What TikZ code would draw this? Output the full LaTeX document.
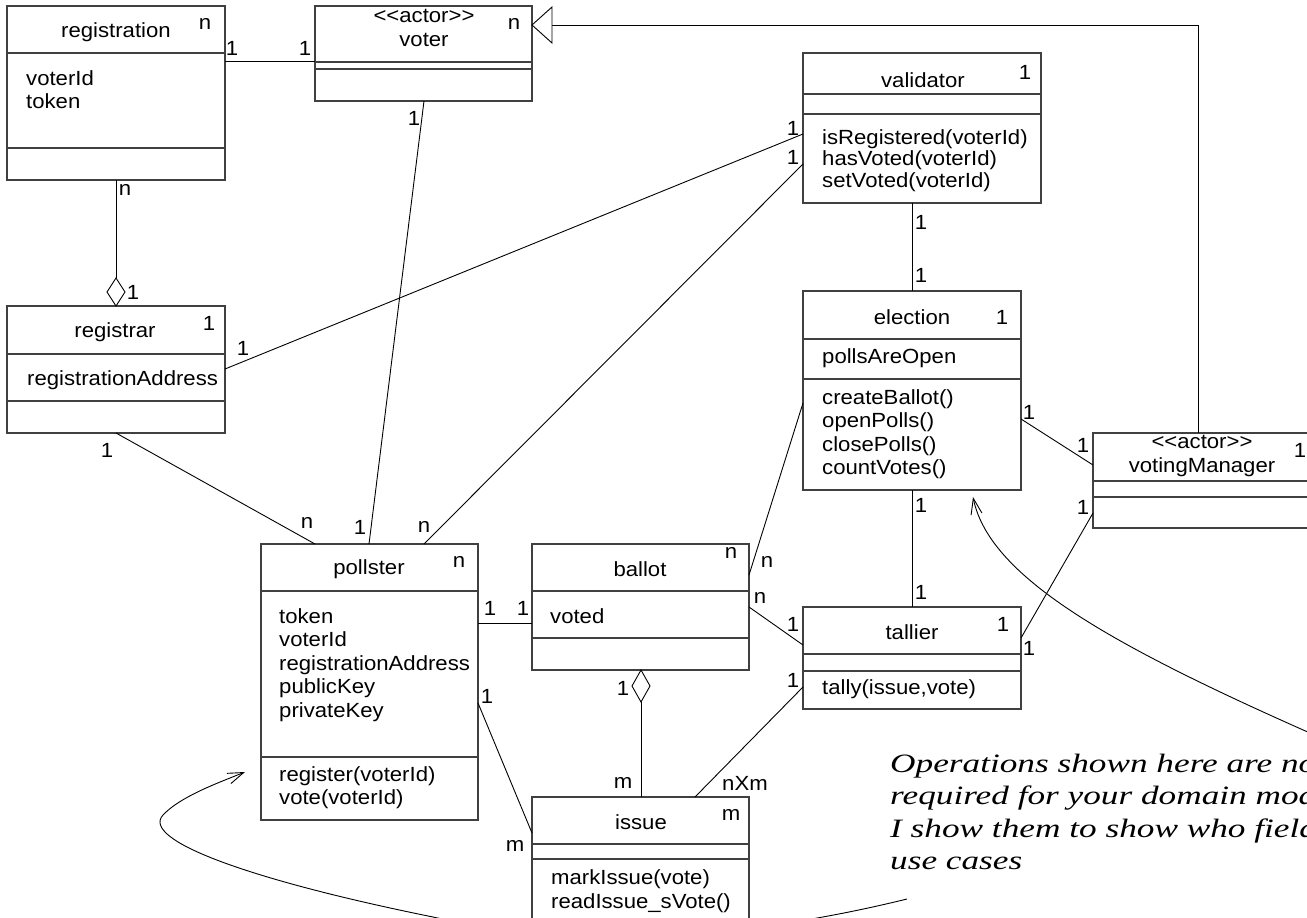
\documentclass[tikz,border=0pt]{standalone}
\usepackage{fontspec}
\setmainfont{Liberation Sans}[FakeStretch=1.08]
\newfontfamily\notefont{Liberation Serif}[FakeStretch=1.33]
\usetikzlibrary{calc,arrows.meta}
\begin{document}
\begin{tikzpicture}[x=1pt,y=-1pt,
  cls/.style={draw=black!75,line width=1.1pt,fill=white,inner sep=0pt,outer sep=0pt,anchor=north west},
  sep/.style={draw=black!75,line width=1.1pt},
  assoc/.style={draw=black,line width=0.9pt},
  txt/.style={inner sep=0pt,font=\fontsize{20.5}{23.5}\selectfont},
  blk/.style={inner sep=0pt,anchor=north west,align=left,font=\fontsize{20.5}{23.5}\selectfont},
  mult/.style={inner sep=0pt,font=\fontsize{20.5}{23.5}\selectfont},
  notetip/.style={-{Straight Barb[length=16pt,width=11pt]}},
  notetxt/.style={inner sep=0pt,anchor=north west,align=left,font=\notefont\itshape\fontsize{26.5}{32.3}\selectfont}]
\useasboundingbox (0,0) rectangle (1307,918);
\clip (0,0) rectangle (1307,918);

% ---------- class boxes ----------
\node[cls,minimum width=218pt,minimum height=174pt] (reg) at (7,6) {};
\node[cls,minimum width=217pt,minimum height=95pt] (voter) at (315,6) {};
\node[cls,minimum width=238pt,minimum height=150pt] (validator) at (803,53) {};
\node[cls,minimum width=218pt,minimum height=127pt] (registrar) at (7,306) {};
\node[cls,minimum width=218pt,minimum height=199pt] (election) at (803,291) {};
\node[cls,minimum width=240pt,minimum height=95pt] (vm) at (1093,433) {};
\node[cls,minimum width=217pt,minimum height=276pt] (pollster) at (261,544) {};
\node[cls,minimum width=217pt,minimum height=126pt] (ballot) at (532,544) {};
\node[cls,minimum width=218pt,minimum height=102pt] (tallier) at (803,607) {};

% ---------- connectors ----------
\draw[assoc] ($(reg.north east)+(0,55)$) -- ($(voter.north west)+(0,55)$);
\coordinate (agg1top) at ($(registrar.north west)+(109,-28)$);
\draw[assoc] ($(reg.south west)+(109,0)$) -- (agg1top);
\draw[assoc,fill=white] (agg1top) -- ++(9,14) -- ++(-9,14) -- ++(-9,-14) -- cycle;
\draw[assoc] ($(voter.south west)+(109,0)$) -- ($(pollster.north west)+(108,0)$);
\draw[assoc] ($(registrar.north east)+(0,63)$) -- ($(validator.north west)+(0,81)$);
\draw[assoc] ($(pollster.north west)+(163,0)$) -- ($(validator.north west)+(0,111)$);
\draw[assoc] ($(registrar.south west)+(109,0)$) -- ($(pollster.north west)+(54,0)$);
\draw[assoc] ($(validator.south west)+(109,0)$) -- ($(election.north west)+(109,0)$);
\draw[assoc] ($(election.north east)+(0,128)$) -- ($(vm.north west)+(0,32)$);
\draw[assoc] ($(election.south west)+(109,0)$) -- ($(tallier.north west)+(109,0)$);
\draw[assoc] ($(ballot.north east)+(0,31)$) -- ($(election.north west)+(0,112)$);
\draw[assoc] ($(ballot.north east)+(0,63)$) -- ($(tallier.north west)+(0,38)$);
\draw[assoc] ($(tallier.north east)+(0,31)$) -- ($(vm.north west)+(0,80)$);
\draw[assoc] ($(pollster.north east)+(0,79)$) -- ($(ballot.north west)+(0,79)$);
% generalization voter <|-- votingManager
\coordinate (gentip) at ($(voter.north east)+(0,19)$);
\coordinate (genbase) at ($(gentip)+(20,0)$);
\draw[assoc] ($(vm.north west)+(105,0)$) |- (genbase);
\draw[assoc,fill=white] (gentip) -- ($(genbase)+(0,-18)$) -- ($(genbase)+(0,18)$) -- cycle;

% note curves
\coordinate (noteA) at (1335,744);
\coordinate (noteB) at (907,899);
\draw[assoc,notetip] (noteA) .. controls (1120,650) and (990,580) .. ($(election.south west)+(170,7)$);
\draw[assoc,notetip] (noteB) .. controls (720,945) and (560,945) .. (433,917)
   .. controls (250,880) and (140,840) .. (163,815)
   .. controls (180,797) and (215,784) .. ($(pollster.north west)+(-16,228)$);

% issue box drawn above the note curve
\node[cls,minimum width=217pt,minimum height=135pt] (issue) at (532,797) {};
\draw[assoc] ($(pollster.north east)+(0,159)$) -- ($(issue.north west)+(0,36)$);
\coordinate (agg2top) at ($(ballot.south west)+(109,0)$);
\draw[assoc,fill=white] (agg2top) -- ++(9,16) -- ++(-9,16) -- ++(-9,-16) -- cycle;
\draw[assoc] ($(agg2top)+(0,32)$) -- ($(issue.north west)+(109,0)$);
\draw[assoc] ($(issue.north west)+(163,0)$) -- ($(tallier.north west)+(0,80)$);

% ---------- compartments ----------
\foreach \b/\a/\c in {reg/47/142, voter/56/63, validator/41/61, registrar/48/95, election/48/88, vm/48/64, pollster/47/213, ballot/47/94, tallier/47/64, issue/47/62}{
  \draw[sep] ($(\b.north west)+(0,\a)$) -- ($(\b.north east)+(0,\a)$);
  \draw[sep] ($(\b.north west)+(0,\c)$) -- ($(\b.north east)+(0,\c)$);
}

% ---------- texts ----------
\node[txt] (tReg) at (116,32) {registration};
\node[mult] (mReg) at (205,24) {n};
\node[blk] (aReg) at (26,70) {voterId\\token};

\node[txt] (sVoter) at (424,16) {{<}{<}actor{>}{>}};
\node[txt] (tVoter) at (424,40) {voter};
\node[mult] (mVoter) at (514,24) {n};

\node[txt] (tVal) at (923,80) {validator};
\node[mult] (mVal) at (1025,72) {1};
\node[blk,font=\fontsize{20.5}{21.8}\selectfont] (oVal) at (822,129) {isRegistered(voterId)\\hasVoted(voterId)\\setVoted(voterId)};

\node[txt] (tRgr) at (115,332) {registrar};
\node[mult] (mRgr) at (209,323) {1};
\node[blk] (aRgr) at (27,370) {registrationAddress};

\node[txt] (tEl) at (912,317) {election};
\node[mult] (mEl) at (1002,317) {1};
\node[blk] (aEl) at (822,348) {pollsAreOpen};
\node[blk] (oEl) at (822,389) {createBallot()\\openPolls()\\closePolls()\\countVotes()};

\node[txt] (sVm) at (1202,442) {{<}{<}actor{>}{>}};
\node[txt] (tVm) at (1202,467) {votingManager};
\node[mult] (mVm) at (1300,450) {1};

\node[txt] (tPol) at (369,569) {pollster};
\node[mult] (mPol) at (459,562) {n};
\node[blk] (aPol) at (279,608) {token\\voterId\\registrationAddress\\publicKey\\privateKey};
\node[blk] (oPol) at (279,766) {register(voterId)\\vote(voterId)};

\node[txt] (tBal) at (640,569) {ballot};
\node[mult] (mBal) at (731,553) {n};
\node[blk] (aBal) at (550,608) {voted};

\node[txt] (tTal) at (912,632) {tallier};
\node[mult] (mTal) at (1003,624) {1};
\node[blk] (oTal) at (822,679) {tally(issue,vote)};

\node[txt] (tIss) at (641,822) {issue};
\node[mult] (mIss) at (731,815) {m};
\node[blk,font=\fontsize{20.5}{24.5}\selectfont] (oIss) at (551,869) {markIssue(vote)\\readIssue\_sVote()};

% ---------- multiplicities on connectors ----------
\node[mult] (m1) at (232,48) {1};
\node[mult] (m2) at (305,48) {1};
\node[mult] (m3) at (125,190) {n};
\node[mult] (m4) at (133,292) {1};
\node[mult] (m5) at (414,118) {1};
\node[mult] (m6) at (360,527) {1};
\node[mult] (m7) at (243,348) {1};
\node[mult] (m8) at (793,128) {1};
\node[mult] (m9) at (424,527) {n};
\node[mult] (m10) at (793,157) {1};
\node[mult] (m11) at (107,450) {1};
\node[mult] (m12) at (307,523) {n};
\node[mult] (m13) at (921,222) {1};
\node[mult] (m14) at (921,275) {1};
\node[mult] (m15) at (1029,412) {1};
\node[mult] (m16) at (1083,445) {1};
\node[mult] (m17) at (921,505) {1};
\node[mult] (m18) at (921,592) {1};
\node[mult] (m19) at (767,562) {n};
\node[mult] (m20) at (760,598) {n};
\node[mult] (m21) at (793,624) {1};
\node[mult] (m22) at (1029,648) {1};
\node[mult] (m23) at (1083,507) {1};
\node[mult] (m24) at (490,608) {1};
\node[mult] (m25) at (523,608) {1};
\node[mult] (m26) at (487,696) {1};
\node[mult] (m27) at (515,846) {m};
\node[mult] (m28) at (623,688) {1};
\node[mult] (m29) at (623,783) {m};
\node[mult] (m30) at (745,783) {nXm};
\node[mult] (m31) at (793,680) {1};

% ---------- note ----------
\node[notetxt] (note) at (890,754) {Operations shown here are not\\required for your domain model\\I show them to show who fields the\\use cases};
\end{tikzpicture}
\end{document}
